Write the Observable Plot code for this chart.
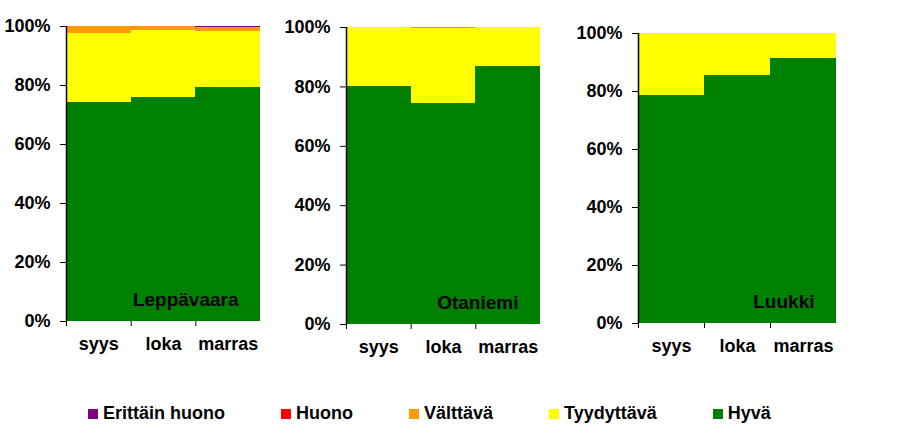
<!DOCTYPE html>
<html><head><meta charset="utf-8">
<script src="https://cdn.jsdelivr.net/npm/d3@7"></script>
<script src="https://cdn.jsdelivr.net/npm/@observablehq/plot@0.6"></script>
<style>
body{margin:0;background:#fff;}
#wrap{position:relative;width:899px;height:444px;overflow:hidden;font-family:"Liberation Sans",Arial,sans-serif;}
.panel{position:absolute;top:0;}
#legend{position:absolute;left:88px;top:397px;}
#legend .lg-swatch{margin-right:56px;}
#legend .lg-swatch > svg{margin-right:5px;}
</style></head><body><div id="wrap"><div id="legend"></div></div>
<script>
// ---- data ----
const months = ["syys", "loka", "marras"];
const classes = ["Erittäin huono", "Huono", "Välttävä", "Tyydyttävä", "Hyvä"];
const colors = ["#800080", "#FF0000", "#FF9900", "#FFFF00", "#008000"];
const places = ["Leppävaara", "Otaniemi", "Luukki"];
// percent per month; order: Erittäin huono, Huono, Välttävä, Tyydyttävä, Hyvä
const leppavaara = [[0, 0, 2.3, 23.6, 74.1], [0, 0, 1.3, 22.7, 76.0], [0.3, 0, 1.3, 19.0, 79.4]];
const otaniemi   = [[0, 0, 0, 20.0, 80.0], [0, 0, 0.5, 25.0, 74.5], [0, 0, 0, 13.0, 87.0]];
const luukki     = [[0, 0, 0, 21.3, 78.7], [0, 0, 0, 14.4, 85.6], [0, 0, 0, 8.5, 91.5]];
const yTicks = [0, 20, 40, 60, 80, 100];

// ---- layout ----
const layouts = [
  {left: 0,   width: 280, ml: 66, mr: 20, mt: 26, mb: 49},
  {left: 280, width: 280, ml: 66, mr: 20, mt: 27, mb: 46},
  {left: 570, width: 290, ml: 68, mr: 24, mt: 33, mb: 47}
];
const font = "Liberation Sans, Arial, sans-serif";
const stackOrder = classes.slice().reverse();

function panel(name, values, L) {
  const rows = [];
  values.forEach((v, i) => v.forEach((p, j) => rows.push({i, month: months[i], cls: classes[j], p})));
  const idx = d3.range(months.length);
  return Plot.plot({
    width: L.width, height: 370,
    marginLeft: L.ml, marginRight: L.mr, marginTop: L.mt, marginBottom: L.mb,
    style: {fontFamily: font, fontSize: "18px", fontWeight: "bold", color: "#000", background: "transparent", overflow: "visible"},
    x: {type: "linear", domain: [0, months.length]},
    y: {domain: [0, 100]},
    color: {domain: classes, range: colors},
    marks: [
      Plot.rectY(rows, {x1: "i", x2: d => d.i + 1, y: "p", fill: "cls", order: stackOrder, shapeRendering: "crispEdges"}),
      Plot.ruleX([0], {stroke: "#000", strokeWidth: 1.5}),
      Plot.axisY({ticks: yTicks, tickFormat: d => d + "%", tickSize: 6, tickPadding: 10, label: null, stroke: "#000", fill: "#000"}),
      Plot.axisX({ticks: idx, tickFormat: () => "", tickSize: 5, label: null, stroke: "#000"}),
      Plot.axisX({ticks: idx.map(i => i + 0.5), tickFormat: d => months[Math.floor(d)], tickSize: 0, tickPadding: 16, label: null, fill: "#000"}),
      Plot.text([name], {text: d => d, frameAnchor: "bottom-right", textAnchor: "end", lineAnchor: "middle", dx: -22, dy: -21.5, fontSize: 19, fontWeight: "bold", fill: "#000"})
    ]
  });
}

const wrap = document.getElementById("wrap");
[leppavaara, otaniemi, luukki].forEach((vals, k) => {
  const L = layouts[k];
  const div = document.createElement("div");
  div.className = "panel";
  div.style.left = L.left + "px";
  div.appendChild(panel(places[k], vals, L));
  wrap.appendChild(div);
});

const leg = Plot.legend({
  color: {domain: classes, range: colors},
  legend: "swatches",
  swatchSize: 10,
  className: "lg",
  style: {fontFamily: font, fontSize: "18px", fontWeight: "bold", color: "#000"}
});
document.getElementById("legend").appendChild(leg);
</script>
</body></html>
